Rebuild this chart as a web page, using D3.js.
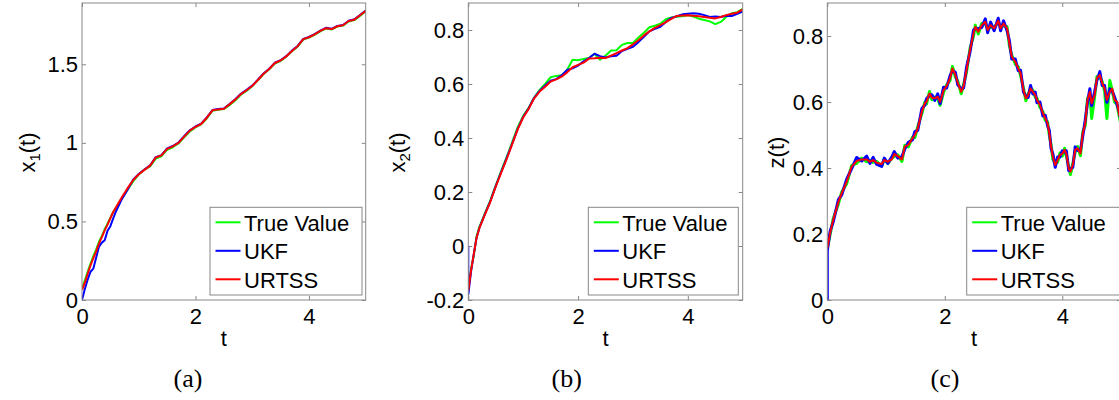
<!DOCTYPE html>
<html>
<head>
<meta charset="utf-8">
<script src="https://cdn.jsdelivr.net/npm/d3@7"></script>
<style>
  html, body { margin: 0; padding: 0; background: #fff; }
  svg { display: block; }
  .tick text { font-family: "Liberation Sans", Arial, sans-serif; font-size: 22px; fill: #000; }
</style>
</head>
<body>
<svg id="fig" width="1119" height="400"></svg>
<script>
// ---- data: state estimates over time t ----
const seriesNames = ["True Value", "UKF", "URTSS"];

// (a) x1(t)
const tA = [0, 0.05, 0.1, 0.15, 0.2, 0.25, 0.3, 0.35, 0.4, 0.45, 0.5, 0.55, 0.6,
  0.7, 0.8, 0.9, 1.0, 1.1, 1.2, 1.3, 1.4, 1.5, 1.6, 1.7, 1.8, 1.9, 2.0, 2.1, 2.2, 2.3, 2.4,
  2.5, 2.6, 2.7, 2.8, 2.9, 3.0, 3.1, 3.2, 3.3, 3.4, 3.5, 3.6, 3.7, 3.8, 3.9, 4.0, 4.1, 4.2,
  4.3, 4.4, 4.5, 4.6, 4.7, 4.8, 4.9, 5.0];
const aTrue = [0.07, 0.125, 0.18, 0.232, 0.28, 0.322, 0.372, 0.408, 0.45, 0.486, 0.524, 0.56, 0.588,
  0.645, 0.7, 0.755, 0.798, 0.83, 0.85, 0.9, 0.915, 0.956,
  0.972, 0.996, 1.035, 1.072, 1.098, 1.118, 1.155, 1.205, 1.21, 1.215,
  1.24, 1.27, 1.306, 1.33, 1.36, 1.398, 1.438, 1.468, 1.505, 1.522,
  1.548, 1.583, 1.612, 1.657, 1.67, 1.688, 1.71, 1.728, 1.722, 1.74,
  1.746, 1.772, 1.781, 1.808, 1.838];
const aUkf = [0, 0.07, 0.13, 0.18, 0.2, 0.27, 0.34, 0.365, 0.38, 0.44, 0.47, 0.52, 0.565,
  0.64, 0.70, 0.765, 0.802, 0.83, 0.857, 0.909, 0.922, 0.964,
  0.98, 1.002, 1.042, 1.08, 1.104, 1.122, 1.162, 1.209, 1.215, 1.219,
  1.247, 1.277, 1.312, 1.337, 1.364, 1.402, 1.442, 1.472, 1.51, 1.526,
  1.552, 1.587, 1.617, 1.662, 1.674, 1.692, 1.714, 1.732, 1.726, 1.744,
  1.75, 1.777, 1.786, 1.814, 1.842];
const aUrtss = [0.064, 0.11, 0.167, 0.22, 0.267, 0.31, 0.36, 0.40, 0.443, 0.48, 0.52, 0.56, 0.59,
  0.652, 0.71, 0.762, 0.80, 0.828, 0.855, 0.907, 0.92, 0.962,
  0.978, 1.0, 1.04, 1.078, 1.102, 1.12, 1.16, 1.207, 1.213, 1.217,
  1.245, 1.275, 1.31, 1.335, 1.362, 1.40, 1.44, 1.47, 1.508, 1.524,
  1.55, 1.585, 1.615, 1.66, 1.672, 1.69, 1.712, 1.73, 1.724, 1.742,
  1.748, 1.775, 1.784, 1.812, 1.84];

// (b) x2(t)
const tB = [0, 0, 0.05, 0.1, 0.15, 0.2, 0.3, 0.4, 0.5, 0.6, 0.7, 0.8, 0.9, 1.0, 1.1, 1.2,
  1.3, 1.4, 1.5, 1.6, 1.7, 1.8, 1.9, 2.0, 2.1, 2.2,
  2.3, 2.4, 2.5, 2.6, 2.7, 2.8, 2.9, 3.0, 3.1, 3.2,
  3.3, 3.4, 3.5, 3.6, 3.7, 3.8, 3.9, 4.0, 4.1, 4.2,
  4.3, 4.4, 4.5, 4.6, 4.7, 4.8, 4.9, 5.0];
const bTrue = [-0.16, -0.16, -0.085, -0.035, 0.035, 0.07, 0.12, 0.168, 0.225, 0.278, 0.33, 0.385, 0.44, 0.482, 0.512, 0.55,
  0.578, 0.6, 0.625, 0.63, 0.632, 0.652, 0.69, 0.688, 0.693, 0.696,
  0.712, 0.69, 0.705, 0.724, 0.725, 0.745, 0.752, 0.752, 0.772, 0.79,
  0.81, 0.816, 0.823, 0.84, 0.846, 0.849, 0.851, 0.855, 0.85, 0.842,
  0.837, 0.832, 0.822, 0.83, 0.848, 0.862, 0.866, 0.878];
const bUkf = [0, -0.18, -0.095, -0.03, 0.03, 0.066, 0.117, 0.165, 0.222, 0.275, 0.326, 0.379, 0.434, 0.478, 0.51, 0.549,
  0.575, 0.594, 0.612, 0.618, 0.632, 0.652, 0.658, 0.668, 0.684, 0.696,
  0.712, 0.703, 0.698, 0.703, 0.705, 0.722, 0.73, 0.738, 0.755, 0.775,
  0.795, 0.804, 0.812, 0.83, 0.845, 0.851, 0.858, 0.86, 0.862, 0.86,
  0.855, 0.848, 0.85, 0.848, 0.853, 0.852, 0.86, 0.868];
const bUrtss = [-0.165, -0.165, -0.09, -0.03, 0.03, 0.065, 0.115, 0.163, 0.22, 0.272, 0.323, 0.377, 0.432, 0.476, 0.508, 0.547,
  0.572, 0.59, 0.609, 0.617, 0.627, 0.643, 0.662, 0.671, 0.679, 0.694,
  0.695, 0.697, 0.696, 0.705, 0.714, 0.724, 0.733, 0.747, 0.762, 0.78,
  0.795, 0.808, 0.818, 0.829, 0.841, 0.852, 0.854, 0.855, 0.853, 0.851,
  0.848, 0.845, 0.843, 0.848, 0.855, 0.86, 0.864, 0.876];

// (c) z(t)
const tC = [0, 0, 0.05, 0.1, 0.19, 0.245, 0.33, 0.415, 0.5, 0.585,
  0.67, 0.727, 0.78, 0.84, 0.927, 0.97, 1.03, 1.1, 1.14, 1.2,
  1.27, 1.32, 1.38, 1.45, 1.49, 1.54, 1.61, 1.66, 1.69, 1.74,
  1.78, 1.83, 1.88, 1.92, 1.98, 2.03, 2.09, 2.13, 2.18, 2.22,
  2.28, 2.32, 2.37, 2.43, 2.49, 2.52, 2.57, 2.63, 2.69, 2.73,
  2.78, 2.84, 2.91, 2.95, 3.0, 3.06, 3.1, 3.14, 3.2, 3.25,
  3.29, 3.34, 3.38, 3.42, 3.46, 3.5, 3.54, 3.57, 3.62, 3.67,
  3.71, 3.75, 3.78, 3.81, 3.84, 3.88, 3.92, 3.96, 4.0, 4.04,
  4.07, 4.11, 4.14, 4.18, 4.22, 4.26, 4.31, 4.35, 4.39, 4.43,
  4.47, 4.5, 4.55, 4.59, 4.64, 4.68, 4.72, 4.76, 4.81, 4.85,
  4.89, 4.93, 4.97, 5.0];
const cTrue = [0.157, 0.157, 0.2, 0.246, 0.292, 0.327, 0.352, 0.408, 0.414, 0.43,
  0.419, 0.423, 0.417, 0.42, 0.406, 0.428, 0.413, 0.43, 0.435, 0.44,
  0.42, 0.469, 0.464, 0.494, 0.492, 0.525, 0.565, 0.6, 0.594, 0.632,
  0.607, 0.615, 0.609, 0.59, 0.63, 0.652, 0.665, 0.708, 0.676, 0.664,
  0.625, 0.653, 0.69, 0.763, 0.8, 0.833, 0.806, 0.838, 0.836, 0.823,
  0.826, 0.828, 0.84, 0.828, 0.832, 0.828, 0.77, 0.742, 0.715, 0.707,
  0.68, 0.642, 0.604, 0.626, 0.634, 0.636, 0.614, 0.611, 0.584, 0.571,
  0.544, 0.54, 0.498, 0.47, 0.426, 0.414, 0.417, 0.445, 0.436, 0.46,
  0.436, 0.404, 0.38, 0.414, 0.448, 0.465, 0.437, 0.51, 0.528, 0.611,
  0.624, 0.55, 0.614, 0.677, 0.675, 0.662, 0.634, 0.55, 0.665, 0.635,
  0.6, 0.594, 0.556, 0.53];
const cUkf = [0, 0.15, 0.21, 0.236, 0.305, 0.318, 0.366, 0.398, 0.432, 0.421,
  0.436, 0.414, 0.432, 0.411, 0.405, 0.43, 0.414, 0.434, 0.45, 0.43,
  0.434, 0.458, 0.478, 0.485, 0.51, 0.514, 0.58, 0.59, 0.61, 0.62,
  0.622, 0.605, 0.625, 0.595, 0.645, 0.642, 0.68, 0.695, 0.69, 0.652,
  0.64, 0.642, 0.705, 0.752, 0.818, 0.822, 0.822, 0.826, 0.852, 0.81,
  0.842, 0.816, 0.854, 0.816, 0.846, 0.816, 0.786, 0.73, 0.73, 0.695,
  0.696, 0.63, 0.618, 0.614, 0.65, 0.624, 0.63, 0.598, 0.6, 0.558,
  0.56, 0.528, 0.514, 0.458, 0.443, 0.402, 0.433, 0.433, 0.452, 0.448,
  0.452, 0.392, 0.397, 0.402, 0.464, 0.453, 0.453, 0.498, 0.544, 0.599,
  0.64, 0.589, 0.63, 0.665, 0.692, 0.65, 0.65, 0.599, 0.64, 0.634,
  0.615, 0.594, 0.57, 0.543];
const cUrtss = [0.157, 0.157, 0.205, 0.242, 0.298, 0.323, 0.359, 0.404, 0.421, 0.426,
  0.426, 0.419, 0.424, 0.416, 0.412, 0.424, 0.419, 0.426, 0.442, 0.436,
  0.426, 0.465, 0.47, 0.49, 0.5, 0.52, 0.571, 0.596, 0.601, 0.626,
  0.613, 0.611, 0.616, 0.601, 0.636, 0.648, 0.672, 0.702, 0.682, 0.659,
  0.631, 0.648, 0.697, 0.758, 0.808, 0.828, 0.813, 0.833, 0.843, 0.818,
  0.833, 0.823, 0.846, 0.823, 0.838, 0.823, 0.778, 0.737, 0.722, 0.702,
  0.687, 0.636, 0.611, 0.621, 0.641, 0.631, 0.621, 0.606, 0.591, 0.566,
  0.551, 0.535, 0.505, 0.465, 0.434, 0.409, 0.424, 0.44, 0.443, 0.455,
  0.443, 0.399, 0.389, 0.409, 0.455, 0.46, 0.444, 0.505, 0.535, 0.606,
  0.631, 0.596, 0.621, 0.672, 0.682, 0.657, 0.641, 0.606, 0.631, 0.641,
  0.606, 0.601, 0.561, 0.55];

// tick values
const xTickValues = [0, 2, 4];
const yTicksA = [0, 0.5, 1, 1.5];
const yTicksB = [-0.2, 0, 0.2, 0.4, 0.6, 0.8];
const yTicksC = [0, 0.2, 0.4, 0.6, 0.8];

// ---- layout ----
const colors = ["#00ff00", "#0000ff", "#ff0000"];
const boxColor = "#888";
const plotTop = 3, plotBottom = 300;
const font = '"Liberation Sans", Arial, Helvetica, sans-serif';

const panels = [
  { t: tA, series: [aTrue, aUkf, aUrtss], left: 82, right: 365.7, yDomain: [0, 1.89],
    yTicks: yTicksA, yName: "x", ySub: "1", yLabelX: 34.7, caption: "(a)", captionX: 188,
    legendX: 210, legendW: 152, lw: [2, 2, 2] },
  { t: tB, series: [bTrue, bUkf, bUrtss], left: 468.3, right: 742.7, yDomain: [-0.2, 0.9],
    yTicks: yTicksB, yName: "x", ySub: "2", yLabelX: 405.4, caption: "(b)", captionX: 566.7,
    legendX: 588.3, legendW: 150, lw: [2, 2, 2] },
  { t: tC, series: [cTrue, cUkf, cUrtss], left: 827.3, right: 1121, yDomain: [0, 0.9],
    yTicks: yTicksC, yName: "z", ySub: null, yLabelX: 783.7, caption: "(c)", captionX: 945,
    legendX: 966.7, legendW: 154, lw: [3, 3, 2] }
];

const svg = d3.select("#fig");

panels.forEach((p, pi) => {
  const x = d3.scaleLinear().domain([0, 5]).range([p.left, p.right]);
  const y = d3.scaleLinear().domain(p.yDomain).range([plotBottom, plotTop]);
  const g = svg.append("g");

  const clipId = "clip" + pi;
  svg.append("clipPath").attr("id", clipId).append("rect")
    .attr("x", p.left).attr("y", plotTop)
    .attr("width", p.right - p.left).attr("height", plotBottom - plotTop);

  // inward ticks on all four sides
  const styleAxis = sel => {
    sel.select(".domain").remove();
    sel.selectAll(".tick line").attr("stroke", boxColor);
  };
  g.append("g").attr("transform", `translate(0,${plotBottom})`)
    .call(d3.axisBottom(x).tickValues(xTickValues).tickSizeInner(-4).tickSizeOuter(0)
      .tickPadding(8).tickFormat(d3.format("d")))
    .call(styleAxis);
  g.append("g").attr("transform", `translate(0,${plotTop})`)
    .call(d3.axisTop(x).tickValues(xTickValues).tickSizeInner(-4).tickSizeOuter(0).tickFormat(""))
    .call(styleAxis);
  g.append("g").attr("transform", `translate(${p.left},0)`)
    .call(d3.axisLeft(y).tickValues(p.yTicks).tickSizeInner(-4).tickSizeOuter(0)
      .tickPadding(4).tickFormat(d => String(+d.toFixed(1))))
    .call(styleAxis);
  g.append("g").attr("transform", `translate(${p.right},0)`)
    .call(d3.axisRight(y).tickValues(p.yTicks).tickSizeInner(-4).tickSizeOuter(0).tickFormat(""))
    .call(styleAxis);
  g.selectAll(".tick text").attr("font-family", font).attr("font-size", 22);

  // curves: true value, UKF, URTSS (smoother drawn on top)
  const line = d3.line().x(d => x(d[0])).y(d => y(d[1]));
  const cg = g.append("g").attr("clip-path", `url(#${clipId})`);
  p.series.forEach((vals, si) => {
    const pts = p.t.map((t, i) => [t, vals[i]]);
    cg.append("path").datum(pts)
      .attr("d", line)
      .attr("fill", "none")
      .attr("stroke", colors[si])
      .attr("stroke-width", p.lw[si])
      .attr("stroke-linejoin", "round");
  });

  // plot box
  g.append("rect")
    .attr("x", p.left).attr("y", plotTop)
    .attr("width", p.right - p.left).attr("height", plotBottom - plotTop)
    .attr("fill", "none").attr("stroke", boxColor).attr("stroke-width", 1);

  // legend
  const lg = g.append("g");
  const ly0 = 207.3, lh = 87.7;
  lg.append("rect").attr("x", p.legendX).attr("y", ly0)
    .attr("width", p.legendW).attr("height", lh)
    .attr("fill", "#fff").attr("stroke", boxColor).attr("stroke-width", 1);
  seriesNames.forEach((name, si) => {
    const ry = 222.3 + si * 28.5;
    lg.append("line")
      .attr("x1", p.legendX + 5.5).attr("x2", p.legendX + 30.5)
      .attr("y1", ry).attr("y2", ry)
      .attr("stroke", colors[si]).attr("stroke-width", 2);
    lg.append("text")
      .attr("x", p.legendX + 34).attr("y", ry + 8.2)
      .attr("font-family", font).attr("font-size", 22)
      .text(name);
  });

  // axis labels
  g.append("text")
    .attr("x", (p.left + p.right) / 2).attr("y", 346)
    .attr("text-anchor", "middle")
    .attr("font-family", font).attr("font-size", 22)
    .text("t");

  const yl = g.append("text")
    .attr("transform", `translate(${p.yLabelX},152.5) rotate(-90)`)
    .attr("text-anchor", "middle")
    .attr("font-family", font).attr("font-size", 22);
  yl.append("tspan").text(p.yName);
  if (p.ySub) {
    yl.append("tspan").attr("font-size", 15).attr("dy", 5).text(p.ySub);
    yl.append("tspan").attr("dy", -5).text("(t)");
  } else {
    yl.append("tspan").text("(t)");
  }

  // sub-figure caption
  g.append("text")
    .attr("x", p.captionX).attr("y", 387)
    .attr("text-anchor", "middle")
    .attr("font-family", '"Liberation Serif", "DejaVu Serif", serif')
    .attr("font-size", 26)
    .text(p.caption);
});
</script>
</body>
</html>
